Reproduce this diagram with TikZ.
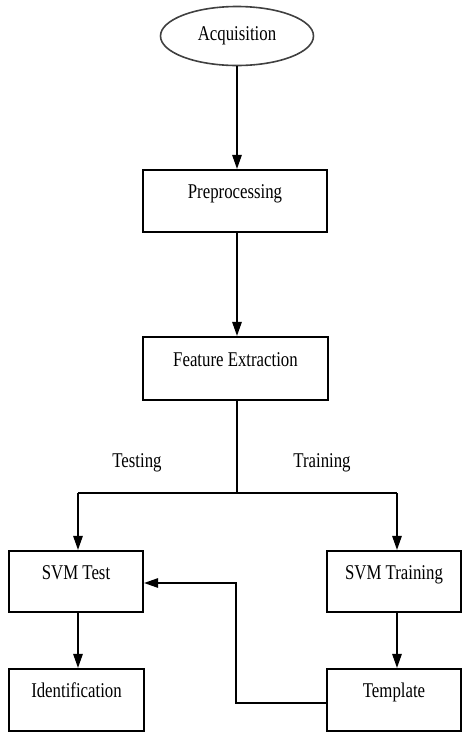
\documentclass[tikz,border=0pt]{standalone}
\usepackage{fontspec}
\usepackage{graphicx}
\setmainfont{Liberation Serif}
\usetikzlibrary{shapes.geometric,arrows.meta}
\newcommand{\narrow}[1]{\scalebox{0.8}[1]{#1}}
\tikzset{
  lbl/.style={font=\fontsize{21}{24}\selectfont, inner sep=0pt},
  stepbox/.style={draw, line width=2.2pt, rectangle, inner sep=0pt,
    font=\fontsize{21}{24}\selectfont, text height=15pt, text depth=20pt},
  startnode/.style={draw=black!75, line width=1.6pt, ellipse, inner sep=0pt,
    minimum width=153pt, minimum height=59pt, font=\fontsize{21}{24}\selectfont},
  flow/.style={line width=1.4pt, -{Triangle[width=9.5pt,length=14pt]}},
  wire/.style={line width=1.4pt}
}
\begin{document}
\begin{tikzpicture}[x=1pt,y=1pt]
  \useasboundingbox (0,0) rectangle (464,-732);

  \node[startnode] (acq) at (237,-36) {\narrow{Acquisition}};
  \node[stepbox, minimum width=184pt, minimum height=62pt] (pre) at (235,-201) {\narrow{Preprocessing}};
  \node[stepbox, minimum width=185pt, minimum height=63pt] (fe) at (235.5,-368.5) {\narrow{Feature Extraction}};
  \node[stepbox, minimum width=134pt, minimum height=61pt] (test) at (76,-581.5) {\narrow{SVM Test}};
  \node[stepbox, minimum width=134pt, minimum height=61pt] (train) at (394,-581.5) {\narrow{SVM Training}};
  \node[stepbox, minimum width=135pt, minimum height=62pt] (ident) at (76.5,-700) {\narrow{Identification}};
  \node[stepbox, minimum width=134pt, minimum height=62pt] (templ) at (394,-700) {\narrow{Template}};

  \node[lbl] (ltest) at (137,-463) {\narrow{Testing}};
  \node[lbl] (ltrain) at (322,-463) {\narrow{Training}};

  % main chain
  \draw[flow] (acq.south) -- (acq.south |- pre.north);
  \draw[flow] (acq.south |- pre.south) -- (acq.south |- fe.north);

  % split into testing and training branches
  \coordinate (split) at (237,-493);
  \coordinate (lefttop) at (78,-493);
  \coordinate (righttop) at (397,-493);
  \draw[wire] (acq.south |- fe.south) -- (split);
  \draw[wire] (lefttop) -- (righttop);
  \draw[flow] (lefttop) -- (lefttop |- test.north);
  \draw[flow] (righttop) -- (righttop |- train.north);

  \draw[flow] (test.south -| lefttop) -- (lefttop |- ident.north);
  \draw[flow] (train.south -| righttop) -- (righttop |- templ.north);

  % template fed back into the test stage
  \coordinate (fbdown) at (236,-703);
  \coordinate (fbup) at (236,-583);
  \draw[flow] (templ.west |- fbdown) -- (fbdown) -- (fbup) -- (test.east |- fbup);
\end{tikzpicture}
\end{document}
